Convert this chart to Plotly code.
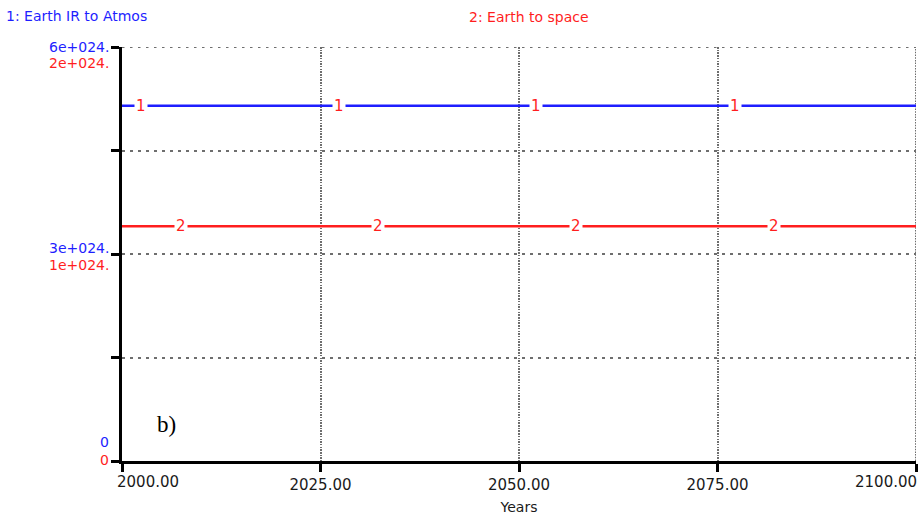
import plotly.graph_objects as go

# Simulation output, years 2000-2100
years = [2000, 2025, 2050, 2075, 2100]
earth_ir_to_atmos = [5.15e24, 5.15e24, 5.15e24, 5.15e24, 5.15e24]
earth_to_space = [1.134e24, 1.134e24, 1.134e24, 1.134e24, 1.134e24]

# Where the series numbers sit along each line
label1_years = [2002.4, 2027.3, 2052.2, 2077.2]
label2_years = [2007.4, 2032.3, 2057.2, 2082.1]

# Axis scales
x_ticks = [2000, 2025, 2050, 2075, 2100]
x_ticktext = ["2000.00", "2025.00", "2050.00", "2075.00", "2100.00"]
y1_ticks = [0, 1.5e24, 3e24, 4.5e24, 6e24]
y1_labels = [(6e24, "6e+024."), (3e24, "3e+024."), (0, "0")]
y2_labels = [(2e24, "2e+024."), (1e24, "1e+024."), (0, "0")]

BLUE = "rgb(30,30,255)"
RED = "rgb(255,30,30)"
FONT = "DejaVu Sans"
TXT = "#1a1a1a"
GRID = "#6e6e6e"
H_DOT = "2.5px,5.5px"   # coarse dots on horizontal grid lines
V_DOT = "1.5px,1.2px"   # fine dots on vertical grid lines

fig = go.Figure()
fig.add_trace(go.Scatter(x=years, y=earth_ir_to_atmos, mode="lines",
                         line=dict(color=BLUE, width=2.5), yaxis="y",
                         showlegend=False, hoverinfo="skip"))
fig.add_trace(go.Scatter(x=years, y=earth_to_space, mode="lines",
                         line=dict(color=RED, width=2.5), yaxis="y2",
                         showlegend=False, hoverinfo="skip"))

ann = []
# series numbers drawn on the lines
for yr in label1_years:
    ann.append(dict(x=yr, y=earth_ir_to_atmos[0], xref="x", yref="y", text="1",
                    showarrow=False, bgcolor="white", borderpad=1,
                    font=dict(family=FONT, size=15, color=RED)))
for yr in label2_years:
    ann.append(dict(x=yr, y=earth_to_space[0], xref="x", yref="y2", text="2",
                    showarrow=False, bgcolor="white", borderpad=1,
                    font=dict(family=FONT, size=15, color=RED)))

# stacked value labels of the two scales
y1_shift = [0, 6, 19]
y2_shift = [-16, -11, 1]
for (v, t), s in zip(y1_labels, y1_shift):
    ann.append(dict(x=0, y=v, xref="paper", yref="y", text=t, showarrow=False,
                    xanchor="right", yanchor="middle", xshift=-11, yshift=s,
                    font=dict(family=FONT, size=14, color=BLUE)))
for (v, t), s in zip(y2_labels, y2_shift):
    ann.append(dict(x=0, y=v, xref="paper", yref="y2", text=t, showarrow=False,
                    xanchor="right", yanchor="middle", xshift=-11, yshift=s,
                    font=dict(family=FONT, size=14, color=RED)))

# first and last year labels are kept inside the axis span
ann.append(dict(x=x_ticks[0], y=0, xref="x", yref="paper", text=x_ticktext[0],
                showarrow=False, xanchor="left", yanchor="middle",
                xshift=-7, yshift=-21, font=dict(family=FONT, size=15, color=TXT)))
ann.append(dict(x=x_ticks[-1], y=0, xref="x", yref="paper", text=x_ticktext[-1],
                showarrow=False, xanchor="right", yanchor="middle",
                xshift=3, yshift=-21, font=dict(family=FONT, size=15, color=TXT)))

# series key along the top
ann.append(dict(x=0, y=1, xref="paper", yref="paper", text="1: Earth IR to Atmos",
                showarrow=False, xanchor="left", yanchor="middle",
                xshift=-118, yshift=31, font=dict(family=FONT, size=14, color=BLUE)))
ann.append(dict(x=0.5125, y=1, xref="paper", yref="paper", text="2: Earth to space",
                showarrow=False, xanchor="center", yanchor="middle",
                yshift=30, font=dict(family=FONT, size=14, color=RED)))

# panel tag
ann.append(dict(x=0.042, y=0.089, xref="paper", yref="paper", text="b)",
                showarrow=False, xanchor="left", yanchor="middle",
                font=dict(family="Liberation Serif", size=23, color="black")))

fig.update_layout(
    width=922, height=520,
    margin=dict(l=122, r=6, t=47, b=59),
    paper_bgcolor="white", plot_bgcolor="white",
    font=dict(family=FONT, size=14, color=TXT),
    xaxis=dict(range=[2000, 2100], tickvals=x_ticks,
               ticktext=[""] + x_ticktext[1:-1] + [""],
               showline=True, linecolor="black", linewidth=3,
               ticks="outside", ticklen=8, tickwidth=3, tickcolor="black",
               tickfont=dict(family=FONT, size=15, color=TXT),
               title=dict(text="Years", standoff=10,
                          font=dict(family=FONT, size=14, color=TXT)),
               zeroline=False, showgrid=True, gridcolor=GRID, gridwidth=1.5,
               griddash=V_DOT),
    yaxis=dict(range=[0, 6e24], tickvals=y1_ticks, showticklabels=False,
               showline=True, linecolor="black", linewidth=3,
               ticks="outside", ticklen=8, tickwidth=3, tickcolor="black",
               zeroline=False, showgrid=True, gridcolor=GRID, gridwidth=2,
               griddash=H_DOT),
    yaxis2=dict(range=[0, 2e24], overlaying="y", visible=False),
    annotations=ann,
    shapes=[
        # dotted frame along the top and right edges of the plot
        dict(type="line", xref="x", yref="y", x0=x_ticks[0], x1=x_ticks[-1],
             y0=y1_ticks[-1], y1=y1_ticks[-1], layer="below",
             line=dict(color=GRID, width=2, dash=H_DOT)),
        dict(type="line", xref="x", yref="y", x0=x_ticks[-1], x1=x_ticks[-1],
             y0=y1_ticks[0], y1=y1_ticks[-1], layer="below",
             line=dict(color=GRID, width=2, dash=V_DOT)),
    ],
)

fig.write_html("out.html")
